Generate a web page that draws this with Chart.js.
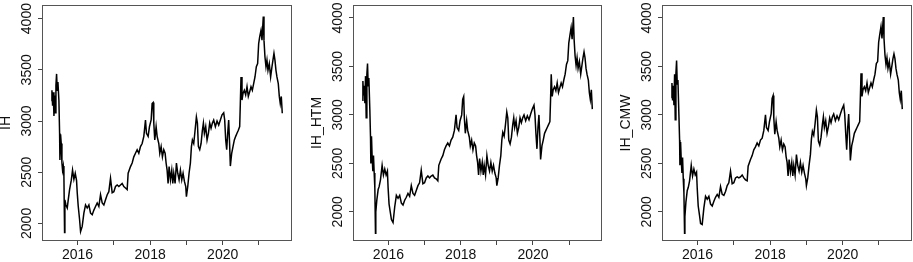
<!DOCTYPE html>
<html>
<head>
<meta charset="utf-8">
<script src="https://cdn.jsdelivr.net/npm/chart.js@4.4.1/dist/chart.umd.min.js"></script>
<style>
  body { margin: 0; background: #fff; width: 913px; height: 262px; overflow: hidden; position: relative; }
  canvas { position: absolute; top: 0; }
</style>
</head>
<body>
<canvas id="c1" width="300" height="262" style="left:0px"></canvas>
<canvas id="c2" width="310" height="262" style="left:300px"></canvas>
<canvas id="c3" width="303" height="262" style="left:610px"></canvas>
<script>
// decimal years, shared by the three series
const dates = [
  2015.275, 2015.294, 2015.312, 2015.330, 2015.349, 2015.367, 2015.385, 2015.404, 2015.422, 2015.440,
  2015.459, 2015.486, 2015.505, 2015.514, 2015.532, 2015.550, 2015.569, 2015.587, 2015.606, 2015.624,
  2015.642, 2015.651, 2015.679, 2015.716, 2015.743, 2015.780, 2015.826, 2015.862, 2015.899, 2015.936,
  2015.972, 2015.991, 2016.018, 2016.055, 2016.083, 2016.128, 2016.174, 2016.220, 2016.266, 2016.312,
  2016.358, 2016.404, 2016.450, 2016.495, 2016.541, 2016.587, 2016.633, 2016.679, 2016.725, 2016.771,
  2016.817, 2016.862, 2016.908, 2016.954, 2017.000, 2017.046, 2017.092, 2017.138, 2017.183, 2017.229,
  2017.275, 2017.321, 2017.367, 2017.394, 2017.459, 2017.505, 2017.550, 2017.596, 2017.642, 2017.688,
  2017.734, 2017.780, 2017.826, 2017.872, 2017.899, 2017.945, 2017.982, 2018.028, 2018.055, 2018.083,
  2018.101, 2018.128, 2018.165, 2018.193, 2018.239, 2018.266, 2018.303, 2018.339, 2018.376, 2018.413,
  2018.440, 2018.468, 2018.495, 2018.523, 2018.560, 2018.596, 2018.624, 2018.651, 2018.688, 2018.725,
  2018.761, 2018.798, 2018.835, 2018.872, 2018.908, 2018.945, 2018.982, 2019.000, 2019.037, 2019.073,
  2019.110, 2019.138, 2019.165, 2019.202, 2019.239, 2019.275, 2019.303, 2019.330, 2019.367, 2019.404,
  2019.440, 2019.468, 2019.495, 2019.532, 2019.569, 2019.606, 2019.642, 2019.679, 2019.716, 2019.752,
  2019.798, 2019.844, 2019.890, 2019.936, 2019.982, 2020.028, 2020.055, 2020.083, 2020.110, 2020.138,
  2020.165, 2020.193, 2020.211, 2020.248, 2020.284, 2020.321, 2020.358, 2020.394, 2020.431, 2020.468,
  2020.486, 2020.505, 2020.532, 2020.560, 2020.596, 2020.633, 2020.670, 2020.706, 2020.743, 2020.780,
  2020.817, 2020.853, 2020.890, 2020.927, 2020.963, 2020.991, 2021.018, 2021.055, 2021.083, 2021.119,
  2021.138, 2021.165, 2021.193, 2021.220, 2021.248, 2021.284, 2021.321, 2021.358, 2021.385, 2021.413,
  2021.440, 2021.468, 2021.495, 2021.532, 2021.560, 2021.587, 2021.615, 2021.642
];

const IH = [
  3200, 3300, 3150, 3280, 3050, 3250, 3080, 3350, 3460, 3300,
  3380, 3200, 2880, 2620, 2870, 2780, 2590, 2520, 2560, 2460,
  1910, 2230, 2180, 2150, 2230, 2330, 2420, 2520, 2430, 2490,
  2420, 2300, 2170, 2040, 1920, 1970, 2100, 2180, 2150, 2180,
  2100, 2085, 2130, 2165, 2200, 2165, 2280, 2200, 2180, 2230,
  2280, 2310, 2440, 2300, 2310, 2360, 2375, 2360, 2375, 2390,
  2360, 2345, 2330, 2490, 2555, 2590, 2650, 2685, 2720, 2685,
  2750, 2780, 2850, 3010, 2880, 2850, 2945, 3010, 3170, 3180,
  2980, 2815, 2945, 2850, 2780, 2685, 2750, 2650, 2720, 2685,
  2590, 2520, 2390, 2555, 2425, 2520, 2390, 2490, 2390, 2590,
  2490, 2425, 2520, 2425, 2490, 2410, 2360, 2260, 2360, 2490,
  2590, 2750, 2815, 2780, 2910, 3040, 2980, 2750, 2720, 2780,
  2910, 2980, 2880, 2945, 2815, 2880, 2980, 2930, 2980, 3010,
  2945, 3000, 2960, 3010, 3060, 3080, 3010, 2815, 2720, 2880,
  3010, 2750, 2560, 2685, 2750, 2815, 2850, 2880, 2910, 2945,
  3170, 3430, 3205, 3270, 3300, 3255, 3335, 3240, 3285, 3335,
  3300, 3365, 3430, 3530, 3560, 3755, 3820, 3885, 3790, 4020,
  3790, 3625, 3530, 3595, 3495, 3560, 3430, 3530, 3595, 3660,
  3595, 3495, 3430, 3365, 3240, 3170, 3240, 3075
];

const IH_HTM = [
  3150, 3350, 3200, 3300, 3120, 3400, 2970, 3420, 3530, 3300,
  3380, 3050, 2760, 2500, 2780, 2560, 2420, 2580, 2400, 2250,
  1780, 2000, 2120, 2230, 2260, 2330, 2480, 2380, 2440, 2380,
  2420, 2250, 2080, 1990, 1920, 1890, 2050, 2170, 2140, 2170,
  2090, 2070, 2120, 2150, 2190, 2160, 2270, 2190, 2170, 2220,
  2270, 2300, 2430, 2290, 2300, 2350, 2370, 2350, 2370, 2380,
  2350, 2340, 2320, 2480, 2545, 2580, 2640, 2680, 2710, 2680,
  2740, 2770, 2840, 3000, 2870, 2840, 2940, 3000, 3160, 3190,
  2970, 2810, 2940, 2840, 2770, 2680, 2740, 2640, 2710, 2680,
  2580, 2510, 2380, 2550, 2420, 2510, 2380, 2480, 2380, 2580,
  2480, 2420, 2510, 2420, 2480, 2400, 2350, 2270, 2350, 2480,
  2580, 2740, 2820, 2780, 2900, 3030, 2970, 2740, 2700, 2770,
  2900, 2970, 2870, 2940, 2810, 2870, 2970, 2920, 2970, 3000,
  2940, 2990, 2950, 3010, 3060, 3100, 3000, 2800, 2650, 2870,
  3000, 2740, 2540, 2680, 2740, 2810, 2840, 2870, 2900, 2930,
  3150, 3420, 3190, 3260, 3290, 3250, 3330, 3230, 3280, 3330,
  3290, 3360, 3420, 3520, 3560, 3740, 3810, 3900, 3780, 4010,
  3780, 3610, 3510, 3590, 3480, 3550, 3420, 3520, 3590, 3650,
  3590, 3480, 3420, 3360, 3230, 3160, 3260, 3060
];

const IH_CMW = [
  3180, 3330, 3150, 3300, 3100, 3420, 2950, 3430, 3560, 3320,
  3360, 3000, 2740, 2480, 2720, 2540, 2400, 2560, 2340, 2200,
  1780, 1950, 2100, 2220, 2250, 2320, 2480, 2370, 2440, 2380,
  2410, 2240, 2060, 1960, 1880, 1870, 2040, 2160, 2130, 2160,
  2080, 2060, 2110, 2150, 2180, 2150, 2260, 2180, 2170, 2210,
  2270, 2300, 2420, 2290, 2300, 2350, 2360, 2350, 2360, 2380,
  2350, 2330, 2320, 2470, 2540, 2580, 2640, 2670, 2710, 2680,
  2740, 2760, 2840, 3000, 2870, 2840, 2930, 3010, 3170, 3200,
  2970, 2800, 2930, 2840, 2760, 2670, 2740, 2640, 2700, 2670,
  2570, 2510, 2370, 2540, 2410, 2510, 2370, 2480, 2380, 2590,
  2480, 2420, 2510, 2410, 2480, 2400, 2340, 2270, 2350, 2480,
  2590, 2750, 2830, 2790, 2910, 3050, 2980, 2730, 2690, 2770,
  2900, 2980, 2870, 2940, 2810, 2880, 2970, 2920, 2980, 3010,
  2940, 2990, 2950, 3010, 3060, 3100, 3010, 2810, 2640, 2870,
  3010, 2740, 2530, 2680, 2740, 2810, 2840, 2870, 2900, 2930,
  3160, 3430, 3190, 3260, 3290, 3250, 3330, 3230, 3280, 3330,
  3290, 3360, 3420, 3530, 3550, 3750, 3820, 3910, 3790, 4010,
  3790, 3620, 3520, 3590, 3480, 3550, 3420, 3510, 3580, 3630,
  3580, 3480, 3420, 3360, 3230, 3160, 3250, 3060
];

const yearTicks = [2016, 2017, 2018, 2019, 2020, 2021];
const yearLabels = [2016, 2018, 2020];   // only even years carry a label
const yTicks = [2000, 2500, 3000, 3500, 4000];

const FONT = "'Liberation Sans', Arial, sans-serif";

// plot box all round + y tick labels written along the axis (R style)
const boxPlugin = {
  id: 'box',
  afterDraw(chart) {
    const a = chart.chartArea, ctx = chart.ctx;
    ctx.save();
    ctx.strokeStyle = '#555';
    ctx.lineWidth = 1;
    ctx.strokeRect(Math.round(a.left) + 0.5, Math.round(a.top) + 0.5,
                   Math.round(a.right - a.left) - 1, Math.round(a.bottom - a.top) - 1);

    const ys = chart.scales.y;
    ctx.fillStyle = '#111';
    ctx.font = '14px ' + FONT;
    ctx.textAlign = 'center';
    ctx.textBaseline = 'middle';
    ys.ticks.forEach(t => {
      const py = ys.getPixelForValue(t.value);
      ctx.save();
      ctx.translate(ys.right - 15, py);
      ctx.rotate(-Math.PI / 2);
      ctx.fillText(String(t.value), 0, 0);
      ctx.restore();
    });
    ctx.restore();
  }
};

function makePanel(id, name, values, yMin, yMax, axisW, rightPad, titlePad) {
  const points = dates.map((d, i) => ({ x: d, y: values[i] }));
  return new Chart(document.getElementById(id), {
    type: 'line',
    data: {
      datasets: [{
        label: name,
        data: points,
        borderColor: '#000',
        borderWidth: 1.5,
        pointRadius: 0,
        tension: 0,
        fill: false
      }]
    },
    options: {
      responsive: false,
      animation: false,
      events: [],
      layout: { autoPadding: false, padding: { top: 5, right: rightPad, bottom: 0, left: 0 } },
      plugins: { legend: { display: false }, tooltip: { enabled: false } },
      scales: {
        x: {
          type: 'linear',
          min: 2015.02, max: 2021.91,
          border: { display: false },
          grid: { drawOnChartArea: false, drawTicks: true, tickLength: 4, color: '#444' },
          ticks: {
            autoSkip: false, maxRotation: 0, padding: 2,
            color: '#111', font: { family: FONT, size: 14 },
            callback: v => yearLabels.includes(v) ? String(v) : ''
          },
          afterBuildTicks: s => { s.ticks = yearTicks.map(v => ({ value: v })); },
          afterFit: s => { s.height = 21; }
        },
        y: {
          type: 'linear',
          min: yMin, max: yMax,
          border: { display: false },
          grid: { drawOnChartArea: false, drawTicks: true, tickLength: 4, color: '#444' },
          ticks: { display: false, autoSkip: false },
          afterBuildTicks: s => { s.ticks = yTicks.map(v => ({ value: v })); },
          title: {
            display: true, text: name, color: '#111',
            font: { family: FONT, size: 14 },
            padding: { top: titlePad, bottom: 0 }
          },
          afterFit: s => { s.width = axisW; }
        }
      }
    },
    plugins: [boxPlugin]
  });
}

makePanel('c1', 'IH', IH, 1828, 4133, 42, 8, -2.4);
makePanel('c2', 'IH_HTM', IH_HTM, 1699, 4134, 53, 8, 8.6);
makePanel('c3', 'IH_CMW', IH_CMW, 1699, 4134, 52, 1, 7.6);
</script>
</body>
</html>
